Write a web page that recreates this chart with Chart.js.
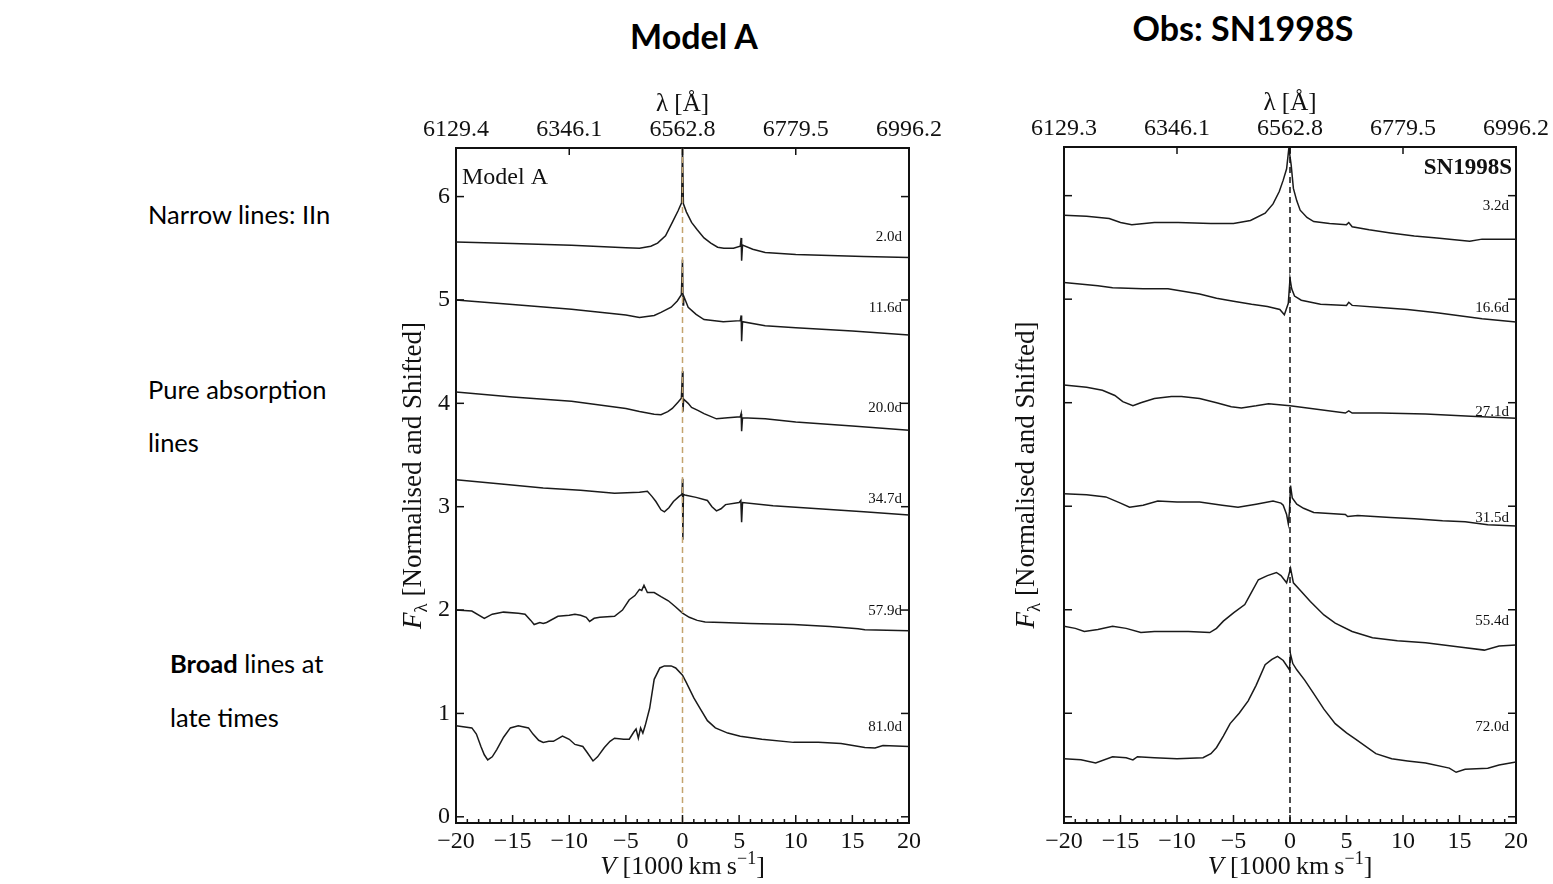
<!DOCTYPE html>
<html>
<head>
<meta charset="utf-8">
<script src="https://cdn.jsdelivr.net/npm/chart.js@4.4.1/dist/chart.umd.min.js"></script>
<style>
  body { margin:0; width:1553px; height:884px; background:#fff; overflow:hidden; position:relative; }
  .txt { position:absolute; font-family:Lato, "Open Sans", sans-serif; color:#000; white-space:nowrap; }
  .side { font-size:25.5px; }
  .head { font-size:34px; font-weight:bold; transform:translate(-50%,-50%); }
  canvas { position:absolute; }
</style>
</head>
<body>
<div class="txt head" style="left:694px;top:35px">Model A</div>
<div class="txt head" style="left:1243px;top:27px">Obs: SN1998S</div>
<div class="txt side" style="left:148px;top:199px">Narrow lines: IIn</div>
<div class="txt side" style="left:148px;top:374px">Pure absorption</div>
<div class="txt side" style="left:148px;top:427px">lines</div>
<div class="txt side" style="left:170px;top:648px"><b>Broad</b> lines at</div>
<div class="txt side" style="left:170px;top:702px">late times</div>

<canvas id="cModel" width="580" height="804" style="left:380px;top:80px;width:580px;height:804px"></canvas>
<canvas id="cObs" width="563" height="804" style="left:990px;top:80px;width:563px;height:804px"></canvas>

<script>
/**************************************************
 DATA  (V in 1000 km/s, normalised + shifted flux)
**************************************************/
const modelTopLabels = ["6129.4", "6346.1", "6562.8", "6779.5", "6996.2"];
const obsTopLabels   = ["6129.3", "6346.1", "6562.8", "6779.5", "6996.2"];
const topTickV = [-20, -10, 0, 10, 20];

const modelEpochs = ["2.0d", "11.6d", "20.0d", "34.7d", "57.9d", "81.0d"];
const modelEpochY = [5.61, 4.92, 3.95, 3.07, 1.99, 0.87];
const obsEpochs   = ["3.2d", "16.6d", "27.1d", "31.5d", "55.4d", "72.0d"];
const obsEpochY   = [5.90, 4.91, 3.91, 2.89, 1.89, 0.87];

// Model A
const m_2_0d = [[-20,5.56],[-15,5.545],[-9.8,5.53],[-5,5.505],[-3.8,5.50],[-2.8,5.52],[-2.2,5.55],[-1.5,5.62],[-0.9,5.75],[-0.4,5.86],[-0.08,5.94],[0,6.49],[0.08,5.93],[0.35,5.85],[0.8,5.75],[1.3,5.68],[1.9,5.60],[2.5,5.55],[3.1,5.51],[3.65,5.50],[4.5,5.50],[5.1,5.52],[5.18,5.60],[5.22,5.38],[5.3,5.53],[6.2,5.49],[7.3,5.46],[10,5.44],[13,5.43],[16,5.42],[20,5.41]];
const m_11_6d = [[-20,5.0],[-15,4.955],[-9.8,4.91],[-5,4.855],[-3.8,4.83],[-2.5,4.85],[-1.9,4.88],[-1.0,4.93],[-0.46,4.99],[-0.1,5.05],[0,5.39],[0.05,4.95],[0.1,5.04],[0.5,4.93],[1.2,4.86],[1.9,4.81],[3.6,4.79],[5.1,4.80],[5.18,4.85],[5.22,4.60],[5.3,4.79],[7.3,4.75],[10,4.73],[15,4.70],[20,4.66]];
const m_20_0d = [[-20,4.11],[-15,4.06],[-9.8,4.02],[-5,3.95],[-3.8,3.92],[-2.5,3.895],[-1.9,3.89],[-1.3,3.92],[-0.9,3.95],[-0.4,4.01],[-0.1,4.05],[0,4.31],[0.04,3.92],[0.1,4.04],[0.5,4.0],[0.8,3.96],[1.4,3.93],[1.9,3.90],[3.0,3.85],[4.0,3.86],[5.1,3.87],[5.18,3.90],[5.22,3.73],[5.3,3.86],[7.3,3.85],[10,3.82],[15,3.78],[20,3.74]];
const m_34_7d = [[-20,3.26],[-16,3.22],[-12.3,3.18],[-9,3.16],[-6,3.13],[-3.8,3.14],[-3.1,3.15],[-2.7,3.10],[-2.35,3.05],[-1.9,2.97],[-1.6,2.95],[-1.2,2.99],[-0.8,3.05],[-0.3,3.10],[-0.05,3.12],[0,3.27],[0.03,2.68],[0.08,3.12],[0.3,3.11],[1.2,3.09],[2.2,3.06],[2.6,3.0],[3.0,2.96],[3.4,2.98],[3.8,3.02],[5.0,3.04],[5.15,3.06],[5.22,2.85],[5.3,3.04],[8,3.01],[12,2.98],[16,2.95],[20,2.92]];
const m_57_9d = [[-20,2.0],[-18.6,1.99],[-17.5,1.92],[-16.8,1.96],[-15.8,1.98],[-14.5,1.97],[-13.9,1.96],[-13.4,1.90],[-13.1,1.86],[-12.6,1.88],[-12.3,1.87],[-12,1.88],[-11,1.94],[-10,1.95],[-9.5,1.96],[-9,1.95],[-8.5,1.93],[-8.2,1.89],[-7.8,1.92],[-7.3,1.93],[-6,1.94],[-5.3,2.0],[-4.7,2.10],[-4.2,2.14],[-3.8,2.20],[-3.6,2.19],[-3.4,2.24],[-3.1,2.17],[-2.5,2.17],[-1.9,2.13],[-1.25,2.09],[-0.6,2.03],[0,1.97],[0.6,1.93],[1.3,1.90],[2,1.885],[3.5,1.88],[6,1.87],[9.8,1.86],[13,1.84],[15.5,1.82],[16.1,1.81],[20,1.80]];
const m_81_0d = [[-20,0.88],[-18.6,0.86],[-18.2,0.80],[-17.8,0.68],[-17.5,0.60],[-17.2,0.55],[-16.8,0.58],[-16.4,0.65],[-15.8,0.77],[-15.2,0.86],[-14.5,0.88],[-13.6,0.86],[-13.2,0.80],[-12.7,0.74],[-12.3,0.72],[-11.8,0.73],[-11.4,0.73],[-10.6,0.78],[-10,0.75],[-9.5,0.70],[-8.8,0.68],[-8.4,0.62],[-7.9,0.54],[-7.5,0.58],[-6.9,0.67],[-6.4,0.73],[-6,0.76],[-5.2,0.75],[-4.7,0.75],[-4.3,0.82],[-4.1,0.85],[-3.9,0.76],[-3.7,0.86],[-3.5,0.81],[-3.3,0.88],[-2.9,1.05],[-2.5,1.33],[-2.0,1.44],[-1.6,1.46],[-1.0,1.46],[-0.6,1.44],[0,1.37],[0.33,1.30],[1.0,1.15],[1.6,1.04],[2.2,0.93],[2.9,0.86],[4,0.81],[5.1,0.78],[7,0.75],[9.8,0.72],[12,0.72],[14,0.71],[16.1,0.67],[17,0.665],[17.7,0.69],[20,0.68]];

// SN1998S
const o_3_2d = [[-20,5.81],[-18,5.80],[-16,5.78],[-15,5.74],[-14,5.72],[-12,5.74],[-9.9,5.74],[-7,5.73],[-5,5.73],[-3.5,5.76],[-2.2,5.83],[-1.5,5.92],[-0.95,6.04],[-0.6,6.15],[-0.3,6.26],[-0.1,6.46],[0.1,6.30],[0.3,6.07],[0.6,5.95],[0.9,5.86],[1.5,5.79],[2.1,5.75],[3.5,5.73],[5,5.72],[5.2,5.74],[5.5,5.70],[7,5.67],[8.9,5.64],[11,5.61],[13,5.59],[15.9,5.56],[17,5.58],[20,5.58]];
const o_16_6d = [[-20,5.16],[-17,5.13],[-15.7,5.11],[-13,5.10],[-10.8,5.10],[-8,5.05],[-6.5,5.01],[-5,4.98],[-3.4,4.95],[-2,4.93],[-0.9,4.90],[-0.5,4.85],[-0.15,4.96],[0,5.20],[0.15,5.10],[0.4,5.03],[1,4.99],[2.7,4.95],[5,4.94],[5.2,4.97],[5.5,4.94],[8,4.92],[10.4,4.90],[13,4.87],[15,4.84],[17,4.81],[20,4.78]];
const o_27_1d = [[-20,4.17],[-18,4.15],[-16.6,4.12],[-15.5,4.07],[-14.8,4.01],[-13.9,3.97],[-13.2,4.0],[-12,4.04],[-10.5,4.06],[-9.6,4.06],[-8,4.04],[-6.5,4.0],[-5.2,3.96],[-4.3,3.95],[-3,3.97],[-1.9,3.99],[0,3.97],[4.9,3.90],[5.2,3.92],[5.5,3.90],[8,3.90],[12,3.89],[16,3.87],[20,3.85]];
const o_31_5d = [[-20,3.12],[-18,3.11],[-16.3,3.09],[-15,3.03],[-14.2,2.99],[-13,3.01],[-11.7,3.05],[-10,3.04],[-8,3.04],[-6,3.01],[-4.6,2.99],[-3,3.02],[-1.5,3.05],[-0.8,3.03],[-0.6,3.01],[-0.3,2.92],[-0.15,2.83],[-0.05,2.95],[0.05,3.20],[0.2,3.08],[0.6,3.02],[1.2,2.98],[2.1,2.94],[4.9,2.92],[5.1,2.90],[6,2.91],[8.9,2.89],[11,2.88],[13.5,2.86],[15.5,2.85],[17.5,2.82],[20,2.81]];
const o_55_4d = [[-20,1.84],[-19,1.82],[-18.2,1.79],[-17,1.81],[-15.7,1.84],[-14.5,1.82],[-13.2,1.78],[-12,1.79],[-11.1,1.79],[-9,1.79],[-7.1,1.78],[-6.5,1.82],[-5.9,1.89],[-5,1.97],[-4,2.05],[-3.4,2.17],[-2.8,2.29],[-2,2.33],[-1.2,2.36],[-0.8,2.33],[-0.3,2.26],[0.05,2.40],[0.3,2.26],[0.8,2.2],[1.8,2.08],[3,1.95],[4,1.87],[5.5,1.79],[7.3,1.73],[9.5,1.70],[12,1.68],[15,1.64],[17.2,1.61],[18.5,1.65],[20,1.66]];
const o_72_0d = [[-20,0.56],[-18.5,0.55],[-17.2,0.52],[-15.7,0.58],[-14.5,0.57],[-13.9,0.55],[-13.5,0.58],[-12,0.57],[-10,0.56],[-7.7,0.57],[-7,0.61],[-6.5,0.67],[-5.9,0.78],[-5.3,0.90],[-4.5,1.0],[-3.7,1.12],[-3.0,1.27],[-2.2,1.47],[-1.6,1.52],[-1.1,1.55],[-0.6,1.51],[-0.05,1.42],[0.05,1.57],[0.25,1.48],[0.6,1.42],[1.3,1.32],[2.1,1.19],[3,1.04],[4,0.90],[5,0.81],[5.8,0.75],[7.6,0.61],[9,0.56],[10.4,0.54],[12,0.52],[14.1,0.47],[14.7,0.43],[15.5,0.46],[17.5,0.47],[18.5,0.50],[20,0.53]];

const yMin = -0.06, yMax = 6.47;

/**************************************************
 DECORATION PLUGIN (inward ticks, titles, labels)
**************************************************/
const SERIF = "'Liberation Serif', 'DejaVu Serif', serif";

function line(ctx, x1, y1, x2, y2) {
  ctx.beginPath(); ctx.moveTo(x1, y1); ctx.lineTo(x2, y2); ctx.stroke();
}

const panelDecor = {
  id: "panelDecor",
  afterDraw(chart, args, o) {
    const ctx = chart.ctx, a = chart.chartArea;
    const x = chart.scales.x, y = chart.scales.y;
    ctx.save();
    ctx.strokeStyle = "#111";
    ctx.lineWidth = 1.5;

    // inward ticks
    for (let v = -20; v <= 20; v++) {
      const px = x.getPixelForValue(v);
      line(ctx, px, a.bottom, px, a.bottom - (v % 5 === 0 ? 8 : 4));
    }
    topTickV.forEach(v => {
      const px = x.getPixelForValue(v);
      line(ctx, px, a.top, px, a.top + 7);
    });
    for (let f = 0; f <= 6; f++) {
      const py = y.getPixelForValue(f);
      line(ctx, a.left, py, a.left + 8, py);
      line(ctx, a.right, py, a.right - 8, py);
    }

    ctx.fillStyle = "#111";

    // panel label
    ctx.textBaseline = "alphabetic";
    if (o.bold) {
      ctx.font = "bold 23px " + SERIF;
      ctx.textAlign = "right";
      ctx.fillText(o.label, a.right - 4, a.top + 27);
    } else {
      ctx.font = "24px " + SERIF;
      ctx.textAlign = "left";
      ctx.fillText(o.label, a.left + 6, a.top + 36);
    }

    // epoch labels
    ctx.font = "15px " + SERIF;
    ctx.textAlign = "right";
    ctx.textBaseline = "middle";
    o.epochs.forEach((t, i) => ctx.fillText(t, a.right - 7, y.getPixelForValue(o.epochY[i])));

    // top title
    ctx.font = "25px " + SERIF;
    ctx.textAlign = "center";
    ctx.fillText("\u03bb [\u00c5]", (a.left + a.right) / 2, a.top - 44);

    // bottom title: V [1000 km s^-1]
    const bx = (a.left + a.right) / 2, by = a.bottom + 51;
    drawParts(ctx, [
      ["italic 26px " + SERIF, "V", 0],
      ["26px " + SERIF, " [1000\u2009km\u2009s", 0],
      ["18px " + SERIF, "\u22121", -10],
      ["26px " + SERIF, "]", 0]
    ], bx, by);

    // y title: F_lambda [Normalised and Shifted]
    ctx.translate(o.yTitleX, (a.top + a.bottom) / 2 - 10);
    ctx.rotate(-Math.PI / 2);
    drawParts(ctx, [
      ["italic 27px " + SERIF, "F", 0],
      ["19px " + SERIF, "\u03bb", 6],
      ["27px " + SERIF, " [Normalised and Shifted]", 0]
    ], 0, 9);
    ctx.restore();
  }
};

function drawParts(ctx, parts, cx, baseY) {
  let total = 0;
  parts.forEach(p => { ctx.font = p[0]; total += ctx.measureText(p[1]).width; });
  let px = cx - total / 2;
  ctx.textAlign = "left";
  ctx.textBaseline = "alphabetic";
  parts.forEach(p => {
    ctx.font = p[0];
    ctx.fillText(p[1], px, baseY + p[2]);
    px += ctx.measureText(p[1]).width;
  });
}

/**************************************************
 CHART BUILDER
**************************************************/
function spectrum(pts) {
  return {
    data: pts.map(p => ({ x: p[0], y: p[1] })),
    borderColor: "#1a1a1a", borderWidth: 1.5,
    pointRadius: 0, tension: 0, fill: false
  };
}

function makePanel(id, series, topLabels, dashColor, decor, sizes) {
  const tickFont = { family: SERIF, size: 24 };
  const datasets = series.map(spectrum);
  datasets.unshift({
    data: [{ x: 0, y: yMin }, { x: 0, y: yMax }],
    borderColor: dashColor, borderWidth: 1.5, borderDash: [6, 4],
    pointRadius: 0, fill: false
  });

  return new Chart(document.getElementById(id), {
    type: "line",
    data: { datasets },
    plugins: [panelDecor],
    options: {
      responsive: false, animation: false, devicePixelRatio: 1,
      layout: { padding: 0 },
      plugins: { legend: { display: false }, tooltip: { enabled: false }, panelDecor: decor },
      scales: {
        x: {
          type: "linear", position: "bottom", min: -20, max: 20,
          grid: { display: false, drawTicks: false },
          border: { display: true, color: "#111", width: 2 },
          ticks: { stepSize: 5, font: tickFont, color: "#111", padding: 4,
                   callback: v => (v < 0 ? "\u2212" + Math.abs(v) : String(v)) },
          afterFit: s => { s.height = sizes.bottom; }
        },
        x2: {
          type: "linear", position: "top", min: -20, max: 20,
          grid: { display: false, drawTicks: false },
          border: { display: true, color: "#111", width: 2 },
          afterBuildTicks: s => { s.ticks = topTickV.map(v => ({ value: v })); },
          ticks: { font: tickFont, color: "#111", padding: 4, maxRotation: 0,
                   callback: (v, i) => topLabels[i] },
          afterFit: s => { s.height = sizes.top; }
        },
        y: {
          type: "linear", position: "left", min: yMin, max: yMax,
          grid: { display: false, drawTicks: false },
          border: { display: true, color: "#111", width: 2 },
          afterBuildTicks: s => { s.ticks = [0, 1, 2, 3, 4, 5, 6].map(v => ({ value: v })); },
          ticks: { display: sizes.yLabels, font: tickFont, color: "#111", padding: 6 },
          afterFit: s => { s.width = sizes.left; }
        },
        y2: {
          type: "linear", position: "right", min: yMin, max: yMax,
          grid: { display: false, drawTicks: false },
          border: { display: true, color: "#111", width: 2 },
          ticks: { display: false },
          afterFit: s => { s.width = sizes.right; }
        }
      }
    }
  });
}

makePanel("cModel",
  [m_2_0d, m_11_6d, m_20_0d, m_34_7d, m_57_9d, m_81_0d],
  modelTopLabels, "#c4a46f",
  { label: "Model A", bold: false, epochs: modelEpochs, epochY: modelEpochY, yTitleX: 32 },
  { left: 76, right: 51, top: 68, bottom: 61, yLabels: true });

makePanel("cObs",
  [o_3_2d, o_16_6d, o_27_1d, o_31_5d, o_55_4d, o_72_0d],
  obsTopLabels, "#111",
  { label: "SN1998S", bold: true, epochs: obsEpochs, epochY: obsEpochY, yTitleX: 35 },
  { left: 74, right: 36, top: 67, bottom: 61, yLabels: false });
</script>
</body>
</html>
